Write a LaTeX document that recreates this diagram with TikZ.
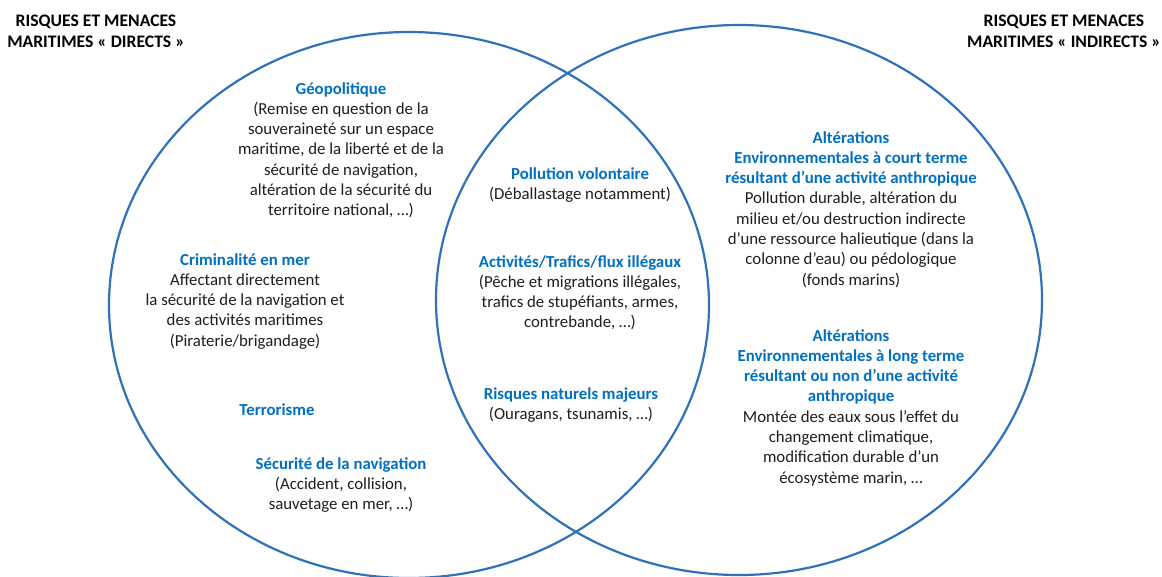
\documentclass[tikz,border=0pt]{standalone}
\usepackage{fontspec}
\setmainfont{Carlito}
\usepackage{xcolor}
\definecolor{cblue}{RGB}{47,114,186}
\definecolor{hblue}{RGB}{0,112,192}
\definecolor{txt}{RGB}{30,30,30}
\newcommand{\hd}[1]{\textcolor{hblue}{\bfseries #1}}
\newcommand{\blk}[1]{\begin{tabular}[t]{@{}c@{}}#1\end{tabular}}
\begin{document}
\begin{tikzpicture}[x=1pt,y=-1pt,
  ring/.style={draw=cblue,line width=2.2pt},
  blk/.style={anchor=base,inner sep=0pt,text=txt,font=\fontsize{16.8}{20.3}\selectfont},
  ttl/.style={anchor=base,inner sep=0pt,text=black,font=\fontsize{17.6}{21}\selectfont\bfseries}]
\useasboundingbox[fill=white] (0,0) rectangle (1162,576);
\draw[ring] (409,305) ellipse [x radius=300pt, y radius=273pt];
\draw[ring] (739,300) ellipse [x radius=303pt, y radius=275pt];
\node[ttl] (tl) at (96,26.5) {\blk{RISQUES ET MENACES\\MARITIMES « DIRECTS »}};
\node[ttl] (tr) at (1064,26.5) {\blk{RISQUES ET MENACES\\MARITIMES « INDIRECTS »}};
\node[blk] (geo) at (341,94) {\blk{\hd{Géopolitique}\\(Remise en question de la\\souveraineté sur un espace\\maritime, de la liberté et de la\\sécurité de navigation,\\altération de la sécurité du\\territoire national, …)}};
\node[blk] (crim) at (245,265) {\blk{\hd{Criminalité en mer}\\Affectant directement\\la sécurité de la navigation et\\des activités maritimes\\(Piraterie/brigandage)}};
\node[blk] (terr) at (277,415) {\blk{\hd{Terrorisme}}};
\node[blk] (secu) at (341,469) {\blk{\hd{Sécurité de la navigation}\\(Accident, collision,\\sauvetage en mer, …)}};
\node[blk] (poll) at (580,179) {\blk{\hd{Pollution volontaire}\\(Déballastage notamment)}};
\node[blk] (acti) at (580,267) {\blk{\hd{Activités/Trafics/flux illégaux}\\(Pêche et migrations illégales,\\trafics de stupéfiants, armes,\\contrebande, …)}};
\node[blk] (risq) at (571,399) {\blk{\hd{Risques naturels majeurs}\\(Ouragans, tsunamis, …)}};
\node[blk] (alta) at (851,143) {\blk{\hd{Altérations}\\\hd{Environnementales à court terme}\\\hd{résultant d’une activité anthropique}\\Pollution durable, altération du\\milieu et/ou destruction indirecte\\d’une ressource halieutique (dans la\\colonne d’eau) ou pédologique\\(fonds marins)}};
\node[blk] (altb) at (851,341) {\blk{\hd{Altérations}\\\hd{Environnementales à long terme}\\\hd{résultant ou non d’une activité}\\\hd{anthropique}\\Montée des eaux sous l’effet du\\changement climatique,\\modification durable d’un\\écosystème marin, …}};
\end{tikzpicture}
\end{document}
